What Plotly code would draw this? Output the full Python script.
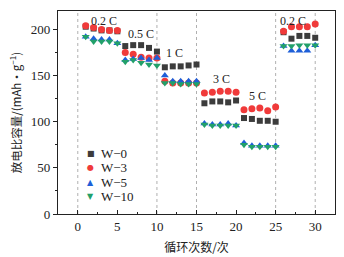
import plotly.graph_objects as go

cycles = list(range(1, 31))
w0 = [203, 201, 199, 199, 198, 182, 183, 183, 180, 176, 159, 160, 160, 161, 162,
      120, 122, 122, 121, 123, 104, 103, 101, 101, 100, 197, 190, 193, 193, 191]
w3 = [204, 202, 200, 199, 199, 175, 173, 170, 169, 169, 144, 142, 142, 142, 142,
      131, 132, 133, 133, 132, 113, 114, 115, 112, 116, 198, 203, 203, 203, 206]
w5 = [192, 190, 189, 189, 185, 167, 168, 169, 167, 169, 150, 144, 144, 144, 144,
      98, 97, 97, 98, 96, 77, 74, 74, 74, 74, 182, 177, 177, 177, 183]
w10 = [192, 187, 187, 187, 185, 165, 167, 164, 162, 161, 142, 142, 141, 141, 141,
       97, 96, 96, 96, 96, 75, 73, 73, 73, 73, 182, 182, 183, 183, 183]
series_names = ["W\u22120", "W\u22123", "W\u22125", "W\u221210"]
rate_labels = ["0.2 C", "0.5 C", "1 C", "3 C", "5 C", "0.2 C"]
rate_label_x = [3.3, 8.0, 12.2, 18.1, 22.7, 27.2]
rate_label_y = [209, 195, 174, 146, 128, 209]
boundary_cycles = [0, 10, 15, 25, 30]

colors = ["#3c3c3c", "#f03a3a", "#1e5fd8", "#22a06a"]
symbols = ["square", "circle", "triangle-up", "triangle-down"]
sizes = [6, 7, 7, 7]
legend_glyphs = ["\u25a0", "\u25cf", "\u25b2", "\u25bc"]
data = [w0, w3, w5, w10]

serif = "Liberation Serif, Times New Roman, Noto Sans CJK SC, serif"

fig = go.Figure()
for name, ys, c, s, sz in zip(series_names, data, colors, symbols, sizes):
    fig.add_trace(go.Scatter(x=cycles, y=ys, mode="markers", name=name, showlegend=False,
                             marker=dict(symbol=s, size=sz, color=c, line=dict(width=0))))

for xb in boundary_cycles:
    fig.add_vline(x=xb, line=dict(color="#b0b0b0", width=1, dash="dot"), layer="below")

for t, x, y in zip(rate_labels, rate_label_x, rate_label_y):
    fig.add_annotation(x=x, y=y, text=t, showarrow=False,
                       font=dict(family=serif, size=12, color="#222"))

# legend built as text (compact row spacing like the reference)
for i, (name, c, g) in enumerate(zip(series_names, colors, legend_glyphs)):
    yy = 0.300 - i * 0.072
    fig.add_annotation(xref="paper", yref="paper", x=0.119, y=yy, text=g, showarrow=False,
                       xanchor="center", yanchor="middle",
                       font=dict(family="DejaVu Sans", size=8, color=c))
    fig.add_annotation(xref="paper", yref="paper", x=0.148, y=yy, text=name, showarrow=False,
                       xanchor="left", yanchor="middle",
                       font=dict(family=serif, size=13, color="#222"))

fig.update_layout(
    width=344, height=257,
    margin=dict(l=58, r=9, t=11, b=43),
    paper_bgcolor="white", plot_bgcolor="white",
    font=dict(family=serif, size=13, color="#222"),
    showlegend=False,
    xaxis=dict(range=[-2.5, 32.5], tickvals=[0, 5, 10, 15, 20, 25, 30],
               ticks="inside", ticklen=4, tickcolor="#222", showgrid=False,
               showline=True, linecolor="#222", linewidth=1.2, mirror=True,
               zeroline=False, automargin=False,
               minor=dict(dtick=2.5, tick0=0, ticks="inside", ticklen=2, tickcolor="#222"),
               title=dict(text="循环次数/次", font=dict(family="Noto Sans CJK SC", size=12), standoff=10)),
    yaxis=dict(range=[0, 220], tickvals=[0, 50, 100, 150, 200],
               ticks="outside", ticklen=4, tickcolor="#222", showgrid=False,
               showline=True, linecolor="#222", linewidth=1.2, mirror=True,
               zeroline=False, automargin=False,
               minor=dict(dtick=25, tick0=0, ticks="outside", ticklen=2, tickcolor="#222"),
               title=dict(text="放电比容量/(mAh·g<sup>−1</sup>)",
                          font=dict(family="Noto Sans CJK SC", size=11.5), standoff=6)),
)

fig.write_html("out.html", config={"displayModeBar": False},
               post_script="document.body.style.margin='0';")
